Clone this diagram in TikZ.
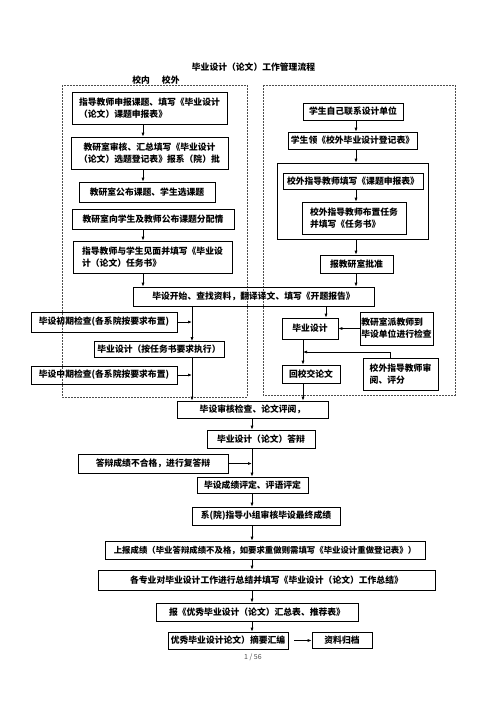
\documentclass[tikz,border=0pt]{standalone}
\usepackage{fontspec}
\setmainfont{Noto Sans CJK SC}
\usetikzlibrary{arrows.meta}
\usetikzlibrary{calc}

\begin{document}
\begin{tikzpicture}[x=1pt,y=-1pt,>/.tip={Latex[length=4pt,width=3pt]},
	box/.style={draw,line width=0.7pt,inner sep=0pt,font=\fontsize{8.8}{12}\selectfont\bfseries},
	zone/.style={draw=black!70,line width=0.6pt,dash pattern=on 2pt off 1pt},
	link/.style={->,line width=0.7pt}]
	\useasboundingbox (0,0) rectangle (496,702);

	\draw (253.5,67) node (title) [font=\fontsize{8.8}{12}\selectfont\bfseries] {毕业设计（论文）工作管理流程};
	\draw (156,80) node (where) [font=\fontsize{8.8}{12}\selectfont\bfseries] {校内\hspace{12pt}校外};

	\draw[zone] (62,85) rectangle (247,397);
	\draw[zone] (263,85) rectangle (455,395);

	\draw (149.5,108) node (A1) [box,minimum width=155,minimum height=32,align=left] {指导教师申报课题、填写《毕业设计\\（论文）课题申报表》};
	\draw (149.5,153) node (A2) [box,minimum width=157,minimum height=32,align=center] {教研室审核、汇总填写《毕业设计\\（论文）选题登记表》报系（院）批};
	\draw (147,192) node (A3) [box,minimum width=136,minimum height=20] {教研室公布课题、学生选课题};
	\draw (153,219) node (A4) [box,minimum width=162,minimum height=20] {教研室向学生及教师公布课题分配情};
	\draw (152.5,257) node (A5) [box,minimum width=159,minimum height=32,align=left] {指导教师与学生见面并填写《毕业设\\计（论文）任务书》};

	\draw (353,111.5) node (R1) [box,minimum width=100,minimum height=17] {学生自己联系设计单位};
	\draw (352.5,140.5) node (R2) [box,minimum width=129,minimum height=17] {学生领《校外毕业设计登记表》};
	\draw (352.5,201) node (frame) [box,minimum width=151,minimum height=76] {};
	\draw (353,181) node (R3) [box,minimum width=140,minimum height=16] {校外指导教师填写《课题申报表》};
	\draw (354,218) node (R4) [box,minimum width=104,minimum height=32,align=left] {校外指导教师布置任务\\并填写《任务书》};
	\draw (356.5,264) node (R5) [box,minimum width=73,minimum height=18] {报教研室批准};

	\draw (253.5,296.5) node (S1) [box,minimum width=241,minimum height=19] {毕设开始、查找资料，翻译译文、填写《开题报告》};

	\draw (104,322) node (L1) [box,minimum width=146,minimum height=20] {毕设初期检查(各系院按要求布置)};
	\draw (159,349.5) node (M1) [box,minimum width=130,minimum height=16] {毕业设计（按任务书要求执行）};
	\draw (104,375) node (L2) [box,minimum width=146,minimum height=18] {毕设中期检查(各系院按要求布置)};

	\draw (310,328.5) node (R6) [box,minimum width=56,minimum height=21] {毕业设计};
	\draw (396.5,328.5) node (R7) [box,minimum width=73,minimum height=33,align=left] {教研室派教师到\\毕设单位进行检查};
	\draw (311,374) node (R8) [box,minimum width=58,minimum height=18] {回校交论文};
	\draw (400.5,374) node (R9) [box,minimum width=75,minimum height=32,align=left] {校外指导教师审\\阅、评分};

	\draw (252.5,409.5) node (B1) [box,minimum width=151,minimum height=17] {毕设审核检查、论文评阅，};
	\draw (261,439) node (B2) [box,minimum width=108,minimum height=18] {毕业设计（论文）答辩};
	\draw (153,463.5) node (L3) [box,minimum width=150,minimum height=19] {答辩成绩不合格，进行复答辩};
	\draw (252.5,485) node (B3) [box,minimum width=111,minimum height=16] {毕设成绩评定、评语评定};
	\draw (266,516) node (B4) [box,minimum width=148,minimum height=18] {系(院)指导小组审核毕设最终成绩};
	\draw (265,550) node (B5) [box,minimum width=320,minimum height=18,font=\fontsize{8.4}{12}\selectfont\bfseries] {上报成绩（毕业答辩成绩不及格，如要求重做则需填写《毕业设计重做登记表》）};
	\draw (266.5,580) node (B6) [box,minimum width=337,minimum height=20] {各专业对毕业设计工作进行总结并填写《毕业设计（论文）工作总结》};
	\draw (257,612) node (B7) [box,minimum width=202,minimum height=18] {报《优秀毕业设计（论文）汇总表、推荐表》};
	\draw (228,640.5) node (B8) [box,minimum width=120,minimum height=17] {优秀毕业设计论文）摘要汇编};
	\draw (342,640.5) node (B9) [box,minimum width=60,minimum height=16] {资料归档};
	\draw (253,657) node (pg) [font=\fontsize{7}{8}\selectfont,text=black!70] {1 / 56};

	\coordinate (lx) at (143,0);
	\coordinate (rx) at (356,0);
	\coordinate (mx) at (192,0);
	\coordinate (ox) at (326,0);
	\coordinate (px) at (303,0);
	\coordinate (qx) at (390,0);
	\coordinate (qy) at (0,352);
	\coordinate (bx) at (252,0);

	\draw[link] (A1.south -| lx) -- (A2.north -| lx);
	\draw[link] (A2.south -| lx) -- (A3.north -| lx);
	\draw[link] (A4.south -| lx) -- (A5.north -| lx);
	\draw[link] (A5.south -| lx) -- (S1.north -| lx);

	\draw[link] (R1.south -| rx) -- (R2.north -| rx);
	\draw[link] (R2.south -| rx) -- (frame.north -| rx);
	\draw[link] (R3.south -| rx) -- (R4.north -| rx);
	\draw[link] (frame.south -| rx) -- (R5.north -| rx);
	\draw[link] (R5.south -| rx) -- (S1.north -| rx);

	\draw[link] (S1.south -| mx) -- (M1.north -| mx);
	\draw[link] (M1.south -| mx) -- (B1.north -| mx);
	\draw[link] (L1.east) -- (L1.east -| mx);
	\draw[link] (L2.east) -- (L2.east -| mx);

	\draw[link] (S1.south -| ox) -- (R6.north -| ox);
	\draw[link] (R7) -- (R6);
	\draw[link] (R6.south -| px) -- (R8.north -| px);
	\draw[link] (R9.north -| qx) |- (qy -| px);
	\draw[link] (R8.south -| px) -- (B1.north -| px);

	\draw[link] (B1.south -| bx) -- (B2.north -| bx);
	\draw[link] (B2.south -| bx) -- (B3.north -| bx);
	\draw[link] (L3.east) -- (L3.east -| bx);
	\draw[link] (B3.south -| bx) -- (B4.north -| bx);
	\draw[link] (B4.south -| bx) -- (B5.north -| bx);
	\draw[link] (B5.south -| bx) -- (B6.north -| bx);
	\draw[link] (B6.south -| bx) -- (B7.north -| bx);
	\draw[link] (B7.south -| bx) -- (B8.north -| bx);
	\draw[link,shorten <=6pt] (B8) -- (B9);
\end{tikzpicture}
\end{document}
